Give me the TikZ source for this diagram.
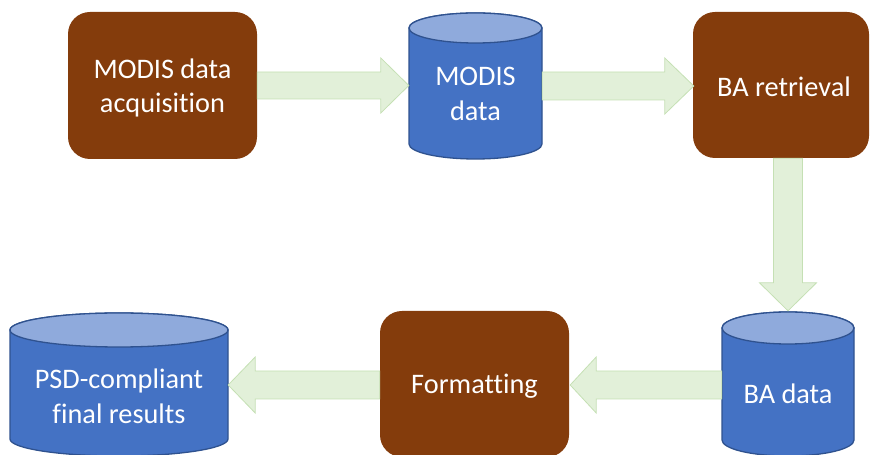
\documentclass[tikz,border=0pt]{standalone}
\usepackage{fontspec}
\setmainfont{Carlito}[Ligatures={NoCommon}]
\usetikzlibrary{calc}
\definecolor{procbrown}{HTML}{843C0C}
\definecolor{cylblue}{HTML}{4472C4}
\definecolor{cylline}{HTML}{2F528F}
\definecolor{cyltopc}{HTML}{8FAADC}
\definecolor{arrfill}{HTML}{E2F0D9}
\definecolor{arrline}{HTML}{C5E0B4}
\tikzset{
  procbox/.style={fill=procbrown, rounded corners=22pt, inner sep=0pt, text=white, align=center,
    font=\fontsize{28.3}{34.8}\selectfont},
  cylbody/.style={fill=cylblue, draw=cylline, line width=1.3pt},
  cyltop/.style={fill=cyltopc, draw=cylline, line width=1.3pt},
  cylarea/.style={inner sep=0pt},
  cyllabel/.style={text=white, align=center, inner sep=0pt, font=\fontsize{28.3}{34.8}\selectfont},
  barrow/.style={fill=arrfill, draw=arrline, line width=0.8pt, line join=miter}
}
\begin{document}
\begin{tikzpicture}[x=1pt,y=1pt]
\useasboundingbox (0,0) rectangle (871,455);
\clip (0,0) rectangle (871,455);
% process boxes
\node[procbox, minimum width=189pt, minimum height=147pt] (n1) at (162.5,369.5) {};
\node[procbox, minimum width=176pt, minimum height=146pt] (n2) at (781,370) {};
\node[procbox, minimum width=189pt, minimum height=146pt] (n3) at (474.5,71) {};
\node[cyllabel] (l1) at (162.5,367) {MODIS data\\acquisition};
\node[cyllabel] (l2) at (784,368) {BA retrieval};
\node[cyllabel] (l3) at (474.5,69) {Formatting};
% cylinder areas (named)
\node[cylarea, minimum width=133pt, minimum height=146pt] (c1) at (475.5,369) {};
\node[cylarea, minimum width=132pt, minimum height=144pt] (c2) at (788,71) {};
\node[cylarea, minimum width=218pt, minimum height=143pt] (c3) at (119,70.5) {};
% cylinder 1
\path[cylbody] (409,427) -- (409,311) arc[start angle=180,end angle=360,x radius=66.5pt,y radius=15pt] -- (542,427) arc[start angle=0,end angle=180,x radius=66.5pt,y radius=15pt] -- cycle;
\path[cyltop] (475.5,427) ellipse[x radius=66.5pt,y radius=15pt];
% cylinder 2
\path[cylbody] (722,127) -- (722,15) arc[start angle=180,end angle=360,x radius=66pt,y radius=16pt] -- (854,127) arc[start angle=0,end angle=180,x radius=66pt,y radius=16pt] -- cycle;
\path[cyltop] (788,127) ellipse[x radius=66pt,y radius=16pt];
% cylinder 3
\path[cylbody] (10,125) -- (10,16) arc[start angle=180,end angle=360,x radius=109pt,y radius=17pt] -- (228,125) arc[start angle=0,end angle=180,x radius=109pt,y radius=17pt] -- cycle;
\path[cyltop] (119,125) ellipse[x radius=109pt,y radius=17pt];
% cylinder labels
\node[cyllabel] (t1) at (475.5,361) {MODIS\\data};
\node[cyllabel] (t2) at (788,61) {BA data};
\node[cyllabel] (t3) at (119,59) {PSD-compliant\\final results};
% block arrows
\path[barrow] let \p1=(n1.east), \p2=(c1.west) in
  (\x1,\y1+13.5) -- (\x2-28,\y1+13.5) -- (\x2-28,\y1+27.5) -- (\x2,\y1) -- (\x2-28,\y1-27.5) -- (\x2-28,\y1-13.5) -- (\x1,\y1-13.5) -- cycle;
\path[barrow] let \p1=(c1.east), \p2=(n2.west) in
  (\x1,\y1+14) -- (\x2-28,\y1+14) -- (\x2-28,\y1+28) -- (\x2+1,\y1) -- (\x2-28,\y1-28) -- (\x2-28,\y1-14) -- (\x1,\y1-14) -- cycle;
\path[barrow] let \p1=(n2.south), \p2=(c2.north) in
  (\x2-14.5,\y1) -- (\x2-14.5,\y2+29) -- (\x2-28.5,\y2+29) -- (\x2,\y2+1) -- (\x2+28.5,\y2+29) -- (\x2+14.5,\y2+29) -- (\x2+14.5,\y1) -- cycle;
\path[barrow] let \p1=(c2.west), \p2=(n3.east) in
  (\x1,\y2+13) -- (\x2+27,\y2+13) -- (\x2+27,\y2+27) -- (\x2+1,\y2-1) -- (\x2+27,\y2-29) -- (\x2+27,\y2-15) -- (\x1,\y2-15) -- cycle;
\path[barrow] let \p1=(n3.west), \p2=(c3.east) in
  (\x1,\y1+13) -- (\x2+27,\y1+13) -- (\x2+27,\y1+27) -- (\x2,\y1-1) -- (\x2+27,\y1-29) -- (\x2+27,\y1-15) -- (\x1,\y1-15) -- cycle;
\end{tikzpicture}
\end{document}
